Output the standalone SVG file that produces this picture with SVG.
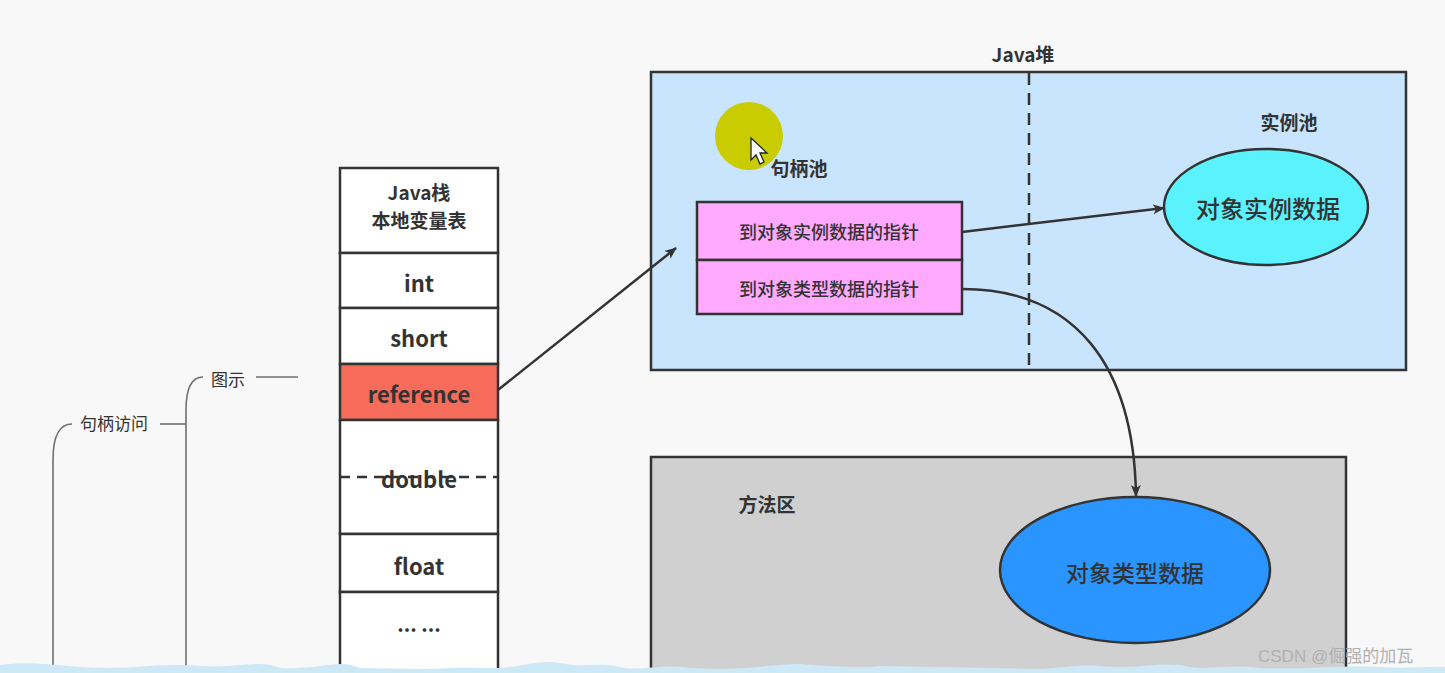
<svg xmlns="http://www.w3.org/2000/svg" width="1445" height="673" viewBox="0 0 1445 673">
<style>
.t{font-family:"Noto Sans CJK SC","Noto Sans",sans-serif;fill:#333;}
.b{font-weight:bold;}
.m{font-weight:500;}
.box{stroke:#333;stroke-width:2.5;}
.cell{fill:#fff;stroke:#333;stroke-width:2.5;}
.conn{fill:none;stroke:#333;stroke-width:2.5;}
.mind{fill:none;stroke:#6f6f6f;stroke-width:1.6;}
</style>
<defs>
<marker id="ah" markerWidth="12" markerHeight="10" refX="11" refY="5" orient="auto" markerUnits="userSpaceOnUse">
<path d="M0,0 L12,5 L0,10 L3,5 Z" fill="#333"/>
</marker>
</defs>
<rect width="1445" height="673" fill="#f8f8f8"/>

<g id="mindmap">
<path class="mind" d="M53,673 L53,460 Q53,424 72,424"/>
<text class="t" x="114" y="430" font-size="17" text-anchor="middle">句柄访问</text>
<path class="mind" d="M160,424 L186,424"/>
<path class="mind" d="M186,673 L186,410 Q186,377 203,377"/>
<text class="t" x="228" y="386" font-size="17" text-anchor="middle">图示</text>
<path class="mind" d="M256,377 L298,377"/>
</g>

<g id="stack">
<rect class="cell" x="340" y="168" width="158" height="85"/>
<text class="t b" x="419" y="200" font-size="19" text-anchor="middle">Java栈</text>
<text class="t b" x="419" y="228" font-size="19" text-anchor="middle">本地变量表</text>
<rect class="cell" x="340" y="253" width="158" height="55"/>
<text class="t b" x="419" y="292" font-size="22" text-anchor="middle">int</text>
<rect class="cell" x="340" y="308" width="158" height="56"/>
<text class="t b" x="419" y="347" font-size="22" text-anchor="middle">short</text>
<rect class="cell" x="340" y="364" width="158" height="56" style="fill:#f76b5b"/>
<text class="t b" x="419" y="403" font-size="22" text-anchor="middle">reference</text>
<rect class="cell" x="340" y="420" width="158" height="114"/>
<text class="t b" x="419" y="488" font-size="22" text-anchor="middle">double</text>
<line x1="340" y1="477" x2="498" y2="477" stroke="#333" stroke-width="2.5" stroke-dasharray="10,7"/>
<rect class="cell" x="340" y="534" width="158" height="58"/>
<text class="t b" x="419" y="575" font-size="22" text-anchor="middle">float</text>
<rect class="cell" x="340" y="592" width="158" height="90"/>
<text class="t b" x="419" y="632" font-size="20" text-anchor="middle">... ...</text>
</g>

<g id="heap">
<text class="t b" x="1023" y="62" font-size="19" text-anchor="middle">Java堆</text>
<rect class="box" x="651" y="72" width="755" height="298" fill="#c9e4fd"/>
<line x1="1029" y1="73" x2="1029" y2="369" stroke="#333" stroke-width="2.5" stroke-dasharray="12,8"/>
<circle cx="749" cy="136" r="34" fill="#c8cc00"/>
<path d="M751,138 L751,160 L756,155 L760,164 L764,162 L760,153 L767,153 Z" fill="#fff" stroke="#222" stroke-width="1.3"/>
<text class="t b" x="799" y="176" font-size="19" text-anchor="middle">句柄池</text>
<text class="t b" x="1289" y="130" font-size="19" text-anchor="middle">实例池</text>
</g>

<g id="handle-instance">
<rect class="box" x="697" y="202" width="265" height="58" fill="#ffaaff"/>
<text class="t m" x="829" y="239" font-size="18" text-anchor="middle">到对象实例数据的指针</text>
</g>
<g id="handle-type">
<rect class="box" x="697" y="260" width="265" height="54" fill="#ffaaff"/>
<text class="t m" x="829" y="296" font-size="18" text-anchor="middle">到对象类型数据的指针</text>
</g>

<g id="instance-data">
<ellipse cx="1266" cy="207" rx="102" ry="58" fill="#5af2fc" stroke="#333" stroke-width="2.5"/>
<text class="t m" x="1268" y="218" font-size="24" text-anchor="middle">对象实例数据</text>
</g>

<g id="method-area">
<rect class="box" x="651" y="457" width="695" height="215" fill="#d0d0d0"/>
<text class="t b" x="767" y="512" font-size="19" text-anchor="middle">方法区</text>
</g>

<g id="type-data">
<ellipse cx="1135" cy="570" rx="135" ry="73" fill="#2a94ff" stroke="#333" stroke-width="2.5"/>
<text class="t m" x="1135" y="582" font-size="23" text-anchor="middle">对象类型数据</text>
</g>

<g id="connectors">
<path class="conn" d="M498,390 L676,248" marker-end="url(#ah)"/>
<path class="conn" d="M962,232 L1164,208" marker-end="url(#ah)"/>
<path class="conn" d="M962,289 C1075,289 1134,365 1136,496" marker-end="url(#ah)"/>
</g>

<g id="decor">
<path d="M0,665 C40,660 60,668 110,668 C140,668 160,663 200,666 C240,668 260,659 280,668 C320,670 340,658 360,668 L430,669 C460,667 470,668 500,668 C520,667 540,659 560,663 C580,668 600,662 620,667 C640,672 660,663 690,668 L720,669 C760,668 780,664 800,664 C840,667 860,668 880,666 L1040,669 C1060,668 1080,664 1100,666 C1140,670 1160,660 1190,667 C1210,670 1230,664 1260,668 C1300,670 1340,665 1380,667 C1410,669 1430,666 1445,667 L1445,673 L0,673 Z" fill="#cde9f5"/>
<text x="1258" y="662" font-family="Liberation Sans, Noto Sans CJK SC, sans-serif" font-size="17" fill="#b0b0b0">CSDN @倔强的加瓦</text>
</g>
</svg>
